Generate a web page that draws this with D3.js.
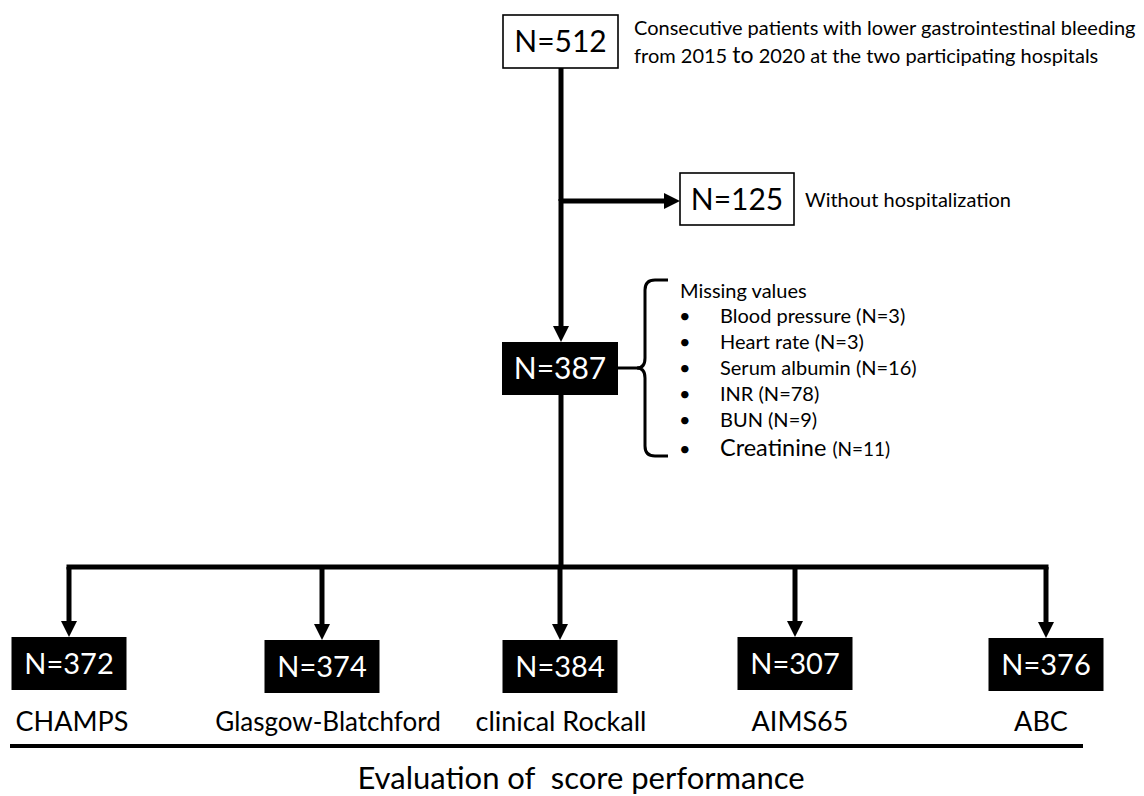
<!DOCTYPE html>
<html><head><meta charset="utf-8">
<script src="https://cdn.jsdelivr.net/npm/d3@7"></script>
<style>
body{margin:0;background:#fff}
svg{display:block}
text{font-family:Lato,"Open Sans",sans-serif;fill:#000}
</style>
</head><body>
<svg id="c" width="1144" height="796"></svg>
<script>
// ---- data ----
const topN = 512;
const topNote = ["Consecutive patients with lower gastrointestinal bleeding", ["from 2015 ", "to", " 2020 at the two participating hospitals"]];
const excludedN = 125;
const excludedLabel = "Without hospitalization";
const includedN = 387;
const missingTitle = "Missing values";
const missingItems = ["Blood pressure", "Heart rate", "Serum albumin", "INR", "BUN", "Creatinine"];
const missingCounts = [3, 3, 16, 78, 9, 11];
const scoreNames = ["CHAMPS", "Glasgow-Blatchford", "clinical Rockall", "AIMS65", "ABC"];
const scoreCounts = [372, 374, 384, 307, 376];
const footer = "Evaluation of  score performance";

// ---- layout ----
const svg = d3.select("#c");
const LW = 5;
const mainX = 561;
const boxW = 115, boxH = 53;
const xScore = d3.scaleOrdinal().domain(scoreNames).range([69, 322, 560, 795, 1046]);
const xLabel = d3.scaleOrdinal().domain(scoreNames).range([72, 328, 561, 800, 1041]);
const yScoreBox = d3.scaleOrdinal().domain(scoreNames).range([637, 640, 640, 637, 638]);
const labelSize = d3.scaleOrdinal().domain(scoreNames).range([27, 26, 27, 27, 27]);
const busY = 567, branchY = 201;
const yMissing = d3.scaleLinear().domain([0, 4]).range([323, 427]);
const yMissingAt = i => i === missingItems.length - 1 ? 456 : yMissing(i);

function arrow(x1, y1, x2, y2) {
  const hl = 16, hw = 8;
  const dx = x2 - x1, dy = y2 - y1, L = Math.hypot(dx, dy);
  const ux = dx / L, uy = dy / L;
  const bx = x2 - ux * hl, by = y2 - uy * hl;
  svg.append("line").attr("x1", x1).attr("y1", y1).attr("x2", bx + ux).attr("y2", by + uy)
    .attr("stroke", "#000").attr("stroke-width", LW);
  svg.append("path").attr("d", d3.line()([[x2, y2], [bx - uy * hw, by + ux * hw], [bx + uy * hw, by - ux * hw]]) + "Z")
    .attr("fill", "#000");
}
function box(cx, y, w, h, txt, dark, fs) {
  svg.append("rect").attr("x", cx - w / 2).attr("y", y).attr("width", w).attr("height", h)
    .attr("fill", dark ? "#000" : "#fff").attr("stroke", "#000").attr("stroke-width", dark ? 0 : 1.6);
  svg.append("text").attr("x", cx).attr("y", y + h / 2 + fs * 0.36).attr("text-anchor", "middle")
    .attr("font-size", fs).style("fill", dark ? "#fff" : "#000").text(txt);
}

// main vertical flow
svg.append("line").attr("x1", mainX).attr("y1", 68).attr("x2", mainX).attr("y2", branchY)
  .attr("stroke", "#000").attr("stroke-width", LW);
arrow(mainX, branchY - 2, mainX, 342);
arrow(mainX - 2, branchY, 680, branchY);

// top box
box(560.5, 15, boxW, boxH, "N=" + topN, false, 30);
const tn = svg.append("g").attr("font-size", 20);
tn.append("text").attr("x", 634).attr("y", 35).text(topNote[0]);
const t2 = tn.append("text").attr("x", 634).attr("y", 63);
t2.append("tspan").text(topNote[1][0]);
t2.append("tspan").attr("font-size", 23).text(topNote[1][1]);
t2.append("tspan").text(topNote[1][2]);

// excluded
box(737, 173, 114, 52, "N=" + excludedN, false, 30);
svg.append("text").attr("x", 805).attr("y", 207).attr("font-size", 20).text(excludedLabel);

// included
box(560, 342, 116, 53, "N=" + includedN, true, 30);

// brace
svg.append("line").attr("x1", 618).attr("y1", 368).attr("x2", 640).attr("y2", 368)
  .attr("stroke", "#000").attr("stroke-width", 3);
svg.append("path")
  .attr("d", "M668,280 L655,280 Q645,280 645,290 L645,358 Q645,368 637,368 Q645,368 645,378 L645,446 Q645,456 655,456 L668,456")
  .attr("fill", "none").attr("stroke", "#000").attr("stroke-width", 3);
svg.append("text").attr("x", 680).attr("y", 298).attr("font-size", 20).text(missingTitle);
const mg = svg.append("g").selectAll("g").data(missingItems).join("g");
mg.append("text").attr("x", 679).attr("y", (d, i) => yMissingAt(i)).attr("font-size", 20).text("\u2022");
mg.each(function (d, i) {
  const t = d3.select(this).append("text").attr("x", 720).attr("y", yMissingAt(i)).attr("font-size", 20);
  if (i === missingItems.length - 1) {
    t.append("tspan").attr("font-size", 23.5).text(d + " ");
    t.append("tspan").attr("font-size", 19).text("(N=" + missingCounts[i] + ")");
  } else {
    t.text(d + " (N=" + missingCounts[i] + ")");
  }
});

// bus
svg.append("line").attr("x1", mainX).attr("y1", 395).attr("x2", mainX).attr("y2", busY)
  .attr("stroke", "#000").attr("stroke-width", LW);
svg.append("line").attr("x1", d3.min(scoreNames, xScore) - LW / 2).attr("y1", busY)
  .attr("x2", d3.max(scoreNames, xScore) + LW / 2).attr("y2", busY)
  .attr("stroke", "#000").attr("stroke-width", LW);
scoreNames.forEach((s, i) => {
  arrow(xScore(s), busY, xScore(s), yScoreBox(s));
  box(xScore(s), yScoreBox(s), boxW, boxH, "N=" + scoreCounts[i], true, 29);
  svg.append("text").attr("x", xLabel(s)).attr("y", 731).attr("text-anchor", "middle")
    .attr("font-size", labelSize(s)).text(s);
});

// underline and footer
svg.append("line").attr("x1", 10).attr("y1", 746).attr("x2", 1083).attr("y2", 746)
  .attr("stroke", "#000").attr("stroke-width", 4);
svg.append("text").attr("x", 581).attr("y", 789).attr("text-anchor", "middle")
  .attr("font-size", 31).style("white-space", "pre").text(footer);
</script>
</body></html>
